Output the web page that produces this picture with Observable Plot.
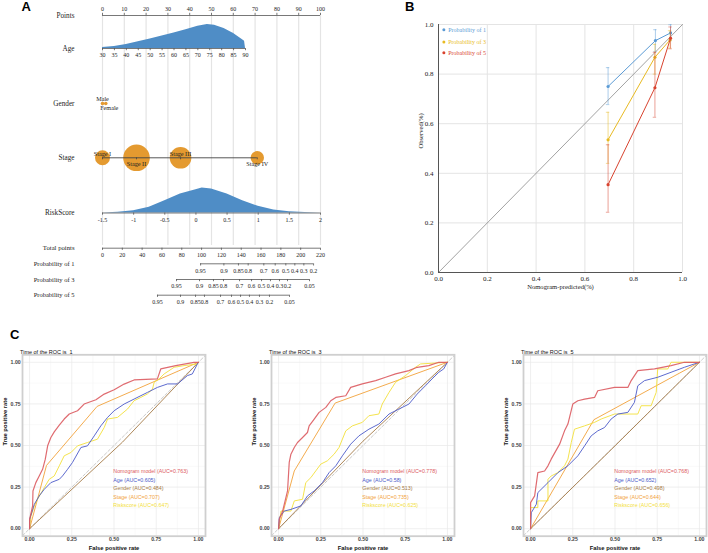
<!DOCTYPE html>
<html><head><meta charset="utf-8">
<script src="https://cdn.jsdelivr.net/npm/d3@7"></script>
<script src="https://cdn.jsdelivr.net/npm/@observablehq/plot@0.6"></script>
<style>
html,body{margin:0;padding:0;background:#fff}
#root{position:relative;width:708px;height:553px;overflow:hidden;background:#fff}
.plab{position:absolute;font-family:'Liberation Sans',Arial,sans-serif;font-weight:bold;font-size:13px;line-height:13px;color:#000}
</style></head><body><div id="root"></div>
<script>
// ================= DATA =================
// ---- Panel A: nomogram ----
const pointsTicks = [0,10,20,30,40,50,60,70,80,90,100];
const ageTicks = [30,35,40,45,50,55,60,65,70,75,80,85,90];
const ageAtMaxPoints = 65.6;             // points given to age 90
const ageDensAge = [30,35,40,45,50,55,60,65,70,74,77,81,85,88.6,89.6,90];
const ageDensVal = [0.04,0.08,0.17,0.28,0.40,0.52,0.65,0.78,0.93,1.0,0.97,0.83,0.63,0.38,0.30,0];
const genderLevels = ["Male","Female"];
const genderPoints = [0,1.5];
const stageLevels = ["Stage I","Stage II","Stage III","Stage IV"];
const stagePoints = [0,15.6,35.8,71];
const stageCount = [56,177,117,45];
const riskTicks = [-1.5,-1,-0.5,0,0.5,1,1.5,2];
const riskDensX = [-1.5,-1.25,-1,-0.75,-0.5,-0.25,0,0.1,0.25,0.5,0.75,1,1.25,1.5,1.75,2];
const riskDensVal = [0,0.03,0.09,0.23,0.49,0.76,0.93,1.0,0.96,0.76,0.49,0.27,0.12,0.05,0.02,0];
const totalTicks = [0,20,40,60,80,100,120,140,160,180,200,220];
const prob1Labels = ["0.95","0.9","0.85","0.8","0.7","0.6","0.5","0.4","0.3","0.2"];
const prob1Total = [99,122.5,137.2,147,162.8,174.3,185,194.1,203.2,213];
const prob3Labels = ["0.95","0.9","0.85","0.8","0.7","0.6","0.5","0.4","0.3","0.2","0.05"];
const prob3Total = [74.7,97.9,112,122.1,138.3,150.4,160.5,169.5,178.6,186.7,208.9];
const prob5Labels = ["0.95","0.9","0.85","0.8","0.7","0.6","0.5","0.4","0.3","0.2","0.05"];
const prob5Total = [55.5,78.7,93.9,102.9,119.1,130.2,139.3,148.3,158.4,168.5,188.7];

// ---- Panel B: calibration ----
const calSeries = ["Probability of 1","Probability of 3","Probability of 5"];
const calPred1 = [0.695,0.889,0.951], calObs1 = [0.750,0.935,0.966], calLo1 = [0.677,0.890,0.935], calHi1 = [0.826,0.979,0.999];
const calPred3 = [0.695,0.887,0.949], calObs3 = [0.535,0.868,0.938], calLo3 = [0.440,0.800,0.905], calHi3 = [0.646,0.920,0.975];
const calPred5 = [0.695,0.887,0.951], calObs5 = [0.354,0.745,0.945], calLo5 = [0.243,0.626,0.902], calHi5 = [0.515,0.888,0.990];
const calTicks = [0,0.2,0.4,0.6,0.8,1];

// ---- Panel C: ROC ----
const rocModels = ["Nomogram model","Age","Gender","Stage","Riskscore"];
const rocTimes = [1,3,5];
const auc1 = [0.763,0.605,0.484,0.707,0.647];
const auc3 = [0.778,0.58,0.513,0.735,0.625];
const auc5 = [0.768,0.652,0.498,0.644,0.656];
const rocTicks = [0,0.25,0.5,0.75,1];

const roc1Nomogram = [[0,0],[0,0.056],[0.018,0.137],[0.02,0.227],[0.037,0.277],[0.057,0.317],[0.077,0.357],[0.093,0.418],[0.107,0.498],[0.126,0.548],[0.146,0.582],[0.176,0.622],[0.205,0.659],[0.235,0.689],[0.284,0.709],[0.323,0.749],[0.393,0.775],[0.442,0.809],[0.501,0.835],[0.560,0.869],[0.619,0.894],[0.757,0.90],[0.777,0.96],[0.866,0.98],[0.974,1],[1,1]];
const roc1Age = [[0,0],[0,0.056],[0.028,0.147],[0.057,0.197],[0.087,0.237],[0.126,0.277],[0.176,0.297],[0.195,0.317],[0.225,0.357],[0.254,0.398],[0.304,0.488],[0.343,0.498],[0.383,0.558],[0.422,0.618],[0.462,0.669],[0.501,0.709],[0.560,0.749],[0.619,0.779],[0.698,0.819],[0.757,0.849],[0.817,0.87],[0.876,0.87],[0.935,0.92],[0.964,0.93],[0.994,0.99],[1,1]];
const roc1Gender = [[0,0],[0.55,0.52],[1,1]];
const roc1Stage = [[0,0],[0.1,0.38],[0.4,0.735],[1,1]];
const roc1Risk = [[0,0],[0.008,0.076],[0.028,0.137],[0.047,0.177],[0.087,0.247],[0.116,0.297],[0.146,0.317],[0.176,0.378],[0.205,0.438],[0.245,0.458],[0.284,0.498],[0.343,0.518],[0.402,0.538],[0.442,0.608],[0.462,0.659],[0.521,0.669],[0.580,0.719],[0.619,0.769],[0.659,0.789],[0.698,0.81],[0.728,0.839],[0.738,0.88],[0.767,0.90],[0.797,0.93],[0.856,0.97],[0.915,0.98],[0.994,0.99],[1,1]];

const roc3Nomogram = [[0,0],[0.004,0.056],[0.024,0.106],[0.053,0.227],[0.063,0.398],[0.073,0.448],[0.093,0.488],[0.112,0.518],[0.142,0.548],[0.171,0.578],[0.181,0.618],[0.211,0.659],[0.240,0.699],[0.280,0.729],[0.309,0.769],[0.339,0.789],[0.398,0.799],[0.427,0.849],[0.496,0.87],[0.575,0.89],[0.634,0.91],[0.693,0.93],[0.772,0.95],[0.821,0.97],[0.890,0.98],[0.949,1],[1,1]];
const roc3Age = [[0,0],[0.004,0.066],[0.033,0.106],[0.073,0.116],[0.132,0.137],[0.171,0.197],[0.211,0.227],[0.260,0.277],[0.299,0.337],[0.339,0.378],[0.378,0.438],[0.427,0.508],[0.476,0.558],[0.535,0.598],[0.594,0.629],[0.654,0.689],[0.713,0.719],[0.772,0.749],[0.821,0.809],[0.870,0.859],[0.909,0.90],[0.949,0.94],[0.978,0.96],[1,1]];
const roc3Gender = [[0,0],[0.5,0.526],[1,1]];
const roc3Stage = [[0,0],[0.093,0.347],[0.335,0.755],[1,1]];
const roc3Risk = [[0,0],[0.014,0.106],[0.073,0.106],[0.093,0.167],[0.142,0.177],[0.161,0.277],[0.191,0.307],[0.220,0.347],[0.250,0.388],[0.289,0.408],[0.329,0.448],[0.358,0.488],[0.398,0.588],[0.437,0.618],[0.496,0.639],[0.535,0.679],[0.594,0.689],[0.614,0.749],[0.654,0.819],[0.693,0.88],[0.752,0.92],[0.811,0.97],[0.841,0.99],[1,1]];

const roc5Nomogram = [[0,0],[0,0.157],[0.024,0.197],[0.043,0.337],[0.083,0.347],[0.103,0.378],[0.122,0.418],[0.172,0.508],[0.201,0.588],[0.221,0.629],[0.250,0.749],[0.280,0.769],[0.320,0.779],[0.379,0.789],[0.398,0.829],[0.497,0.849],[0.576,0.849],[0.596,0.89],[0.635,0.95],[0.734,0.96],[0.832,0.98],[0.911,1],[1,1]];
const roc5Age = [[0,0],[0.004,0.096],[0.034,0.147],[0.043,0.217],[0.103,0.277],[0.162,0.337],[0.221,0.378],[0.280,0.438],[0.320,0.498],[0.359,0.558],[0.398,0.588],[0.438,0.608],[0.477,0.659],[0.517,0.689],[0.576,0.699],[0.615,0.759],[0.635,0.859],[0.675,0.89],[0.753,0.91],[0.832,0.94],[0.911,0.97],[1,1]];
const roc5Gender = [[0,0],[0.5,0.498],[1,1]];
const roc5Stage = [[0,0],[0.375,0.655],[1,1]];
const roc5Risk = [[0,0],[0,0.127],[0.043,0.127],[0.043,0.167],[0.103,0.167],[0.103,0.297],[0.122,0.317],[0.162,0.337],[0.201,0.378],[0.221,0.418],[0.241,0.518],[0.260,0.598],[0.320,0.618],[0.379,0.639],[0.418,0.659],[0.497,0.689],[0.635,0.689],[0.655,0.739],[0.714,0.739],[0.744,0.819],[0.753,0.96],[0.813,0.96],[0.832,1],[1,1]];

// ================= DRAWING =================
const serif = "'Liberation Serif','Times New Roman',serif";
const sans = "'Liberation Sans',Arial,sans-serif";
const root = document.getElementById("root");
function place(el, left, top) {
  el.style.position = "absolute"; el.style.left = left + "px"; el.style.top = top + "px";
  root.appendChild(el);
}
function panelLabel(t, left, top) {
  const d = document.createElement("div"); d.className = "plab"; d.textContent = t;
  d.style.left = left + "px"; d.style.top = top + "px"; root.appendChild(d);
}

// ---------- Panel A ----------
(function () {
  const axisCol = "#555";
  const R = {points: 15, age: 48, gender: 103, stage: 157.3, risk: 212.5, total: 247.7, p1: 263.3, p3: 279, p5: 294.7};
  const agePts = a => (a - 30) / 60 * ageAtMaxPoints;
  const riskPts = r => (r + 1.5) / 3.5 * 100;
  const totPts = t => t / 220 * 100;
  function scaleAxis(values, labels, toX, y, dir, fs) {
    const rows = values.map((v, i) => ({x: toX(v), label: labels[i]}));
    return [
      Plot.ruleY([y], {x1: d3.min(rows, d => d.x), x2: d3.max(rows, d => d.x), stroke: axisCol, strokeWidth: 0.8}),
      Plot.ruleX(rows, {x: "x", y1: y, y2: y + dir * 2.2, stroke: axisCol, strokeWidth: 0.8}),
      Plot.text(rows, {x: "x", y: y + dir * 6.8, text: "label", fontSize: fs, fill: "#222"})
    ];
  }
  const ageArea = ageDensAge.map((a, i) => ({x: agePts(a), h: ageDensVal[i]}));
  const riskArea = riskDensX.map((r, i) => ({x: riskPts(r), h: riskDensVal[i]}));
  const stageRows = stageLevels.map((s, i) => ({x: stagePoints[i], n: stageCount[i], s, above: i % 2 === 0}));
  const genderRows = genderLevels.map((g, i) => ({x: genderPoints[i], g, above: i === 0}));
  const rowLabels = [
    {t: "Points", y: R.points, fs: 7.2}, {t: "Age", y: R.age, fs: 7.2}, {t: "Gender", y: R.gender, fs: 7.2},
    {t: "Stage", y: R.stage, fs: 7.2}, {t: "RiskScore", y: R.risk, fs: 7.2},
    {t: "Total points", y: R.total, fs: 6.7}, {t: "Probability of 1", y: R.p1, fs: 6.5},
    {t: "Probability of 3", y: R.p3, fs: 6.5}, {t: "Probability of 5", y: R.p5, fs: 6.5}
  ];
  const blue = "#4F8DC6", orange = "#E49A30";
  const p = Plot.plot({
    width: 340, height: 310, margin: 0,
    x: {domain: [0, 100], range: [102, 320], axis: null},
    y: {domain: [0, 310], range: [0, 310], axis: null},
    r: {type: "identity"},
    style: {fontFamily: serif, background: "transparent", overflow: "visible"},
    marks: [
      Plot.ruleX(pointsTicks, {x: d => d, y1: R.points, y2: 245, stroke: "#e4e4e4", strokeWidth: 1.2}),
      Plot.text(rowLabels, {frameAnchor: "left", dx: 74, y: "y", text: "t", fontSize: "fs", textAnchor: "end", fill: "#222"}),
      ...scaleAxis(pointsTicks, pointsTicks.map(String), d => d, R.points, -1, 6),
      Plot.areaY(ageArea, {x: "x", y1: R.age, y2: d => R.age - d.h * 24, fill: blue}),
      ...scaleAxis(ageTicks, ageTicks.map(String), agePts, R.age, 1, 6),
      Plot.ruleY([R.gender], {x1: d3.min(genderPoints), x2: d3.max(genderPoints), stroke: axisCol, strokeWidth: 0.8}),
      Plot.dot(genderRows, {x: "x", y: R.gender, r: 1.8, fill: orange}),
      Plot.text(genderRows, {x: d => d.x + (d.above ? 0 : 1.6), y: d => R.gender + (d.above ? -4 : 5), text: "g", fontSize: 6.2, fill: "#222"}),
      Plot.dot(stageRows, {x: "x", y: R.stage, r: d => Math.sqrt(d.n), fill: orange, stroke: "none"}),
      Plot.ruleY([R.stage], {x1: d3.min(stagePoints), x2: d3.max(stagePoints), stroke: "#444", strokeWidth: 0.9}),
      Plot.ruleX(stageRows, {x: "x", y1: R.stage, y2: R.stage + 2, stroke: "#444", strokeWidth: 0.8}),
      Plot.text(stageRows, {x: "x", y: d => R.stage + (d.above ? -4.2 : 5.8), text: "s", fontSize: 6.2, fill: "#222"}),
      Plot.areaY(riskArea, {x: "x", y1: R.risk, y2: d => R.risk - d.h * 25, fill: blue}),
      ...scaleAxis(riskTicks, riskTicks.map(String), riskPts, R.risk, 1, 6),
      ...scaleAxis(totalTicks, totalTicks.map(String), totPts, R.total, 1, 6),
      ...scaleAxis(prob1Total, prob1Labels, totPts, R.p1, 1, 6),
      ...scaleAxis(prob3Total, prob3Labels, totPts, R.p3, 1, 6),
      ...scaleAxis(prob5Total, prob5Labels, totPts, R.p5, 1, 6)
    ]
  });
  place(p, 0, 0);
})();

// ---------- Panel B ----------
(function () {
  const cols = ["#5B9BD5", "#E8BA22", "#D8432F"];
  const preds = [calPred1, calPred3, calPred5], obs = [calObs1, calObs3, calObs5];
  const los = [calLo1, calLo3, calLo5], his = [calHi1, calHi3, calHi5];
  const fmt = d3.format(".1f");
  const marks = [
    Plot.ruleX(calTicks.slice(1), {x: d => d, stroke: "#e4e4e4", strokeWidth: 1}),
    Plot.ruleY(calTicks.slice(1), {y: d => d, stroke: "#e4e4e4", strokeWidth: 1}),
    Plot.line([{x: 0, y: 0}, {x: 1, y: 1}], {x: "x", y: "y", stroke: "#8a8a8a", strokeWidth: 0.8})
  ];
  const legY = [0.979, 0.929, 0.886];
  calSeries.forEach((s, k) => {
    const rows = preds[k].map((x, i) => ({x, y: obs[k][i], lo: los[k][i], hi: his[k][i]}));
    const c = cols[k];
    marks.push(
      Plot.ruleX(rows, {x: "x", y1: "lo", y2: "hi", stroke: c, strokeOpacity: 0.5, strokeWidth: 1}),
      Plot.ruleY(rows, {y: "lo", x1: d => d.x - 0.007, x2: d => d.x + 0.007, stroke: c, strokeOpacity: 0.6, strokeWidth: 0.8}),
      Plot.ruleY(rows, {y: "hi", x1: d => d.x - 0.007, x2: d => d.x + 0.007, stroke: c, strokeOpacity: 0.6, strokeWidth: 0.8}),
      Plot.line(rows, {x: "x", y: "y", stroke: c, strokeWidth: 1}),
      Plot.dot(rows, {x: "x", y: "y", r: 1.6, fill: c}),
      Plot.dot([s], {x: 0.022, y: legY[k], r: 1.5, fill: c}),
      Plot.text([s], {x: 0.04, y: legY[k], text: d => d, fill: c, textAnchor: "start", fontSize: 6})
    );
  });
  marks.push(
    Plot.ruleX([0], {stroke: "#555", strokeWidth: 1}),
    Plot.ruleY([0], {stroke: "#555", strokeWidth: 1}),
    Plot.text(calTicks, {x: d => d, frameAnchor: "bottom", dy: 8, text: fmt, fontSize: 7, fill: "#222"}),
    Plot.text(calTicks, {y: d => d, frameAnchor: "left", dx: -5, text: fmt, textAnchor: "end", fontSize: 7, fill: "#222"}),
    Plot.text(["Nomogram-predicted(%)"], {frameAnchor: "bottom", dy: 16, fontSize: 6.6, fill: "#222"}),
    Plot.text(["Observed(%)"], {frameAnchor: "left", dx: -18, rotate: -90, fontSize: 6.6, fill: "#222"})
  );
  const p = Plot.plot({
    width: 338, height: 300, marginLeft: 68, marginRight: 26, marginTop: 24, marginBottom: 28,
    x: {domain: [0, 1], axis: null}, y: {domain: [0, 1], axis: null},
    style: {fontFamily: serif, background: "transparent", overflow: "visible"},
    marks
  });
  place(p, 370, 0);
})();

// ---------- Panel C ----------
(function () {
  const colors = ["#DC5B61", "#4B59C8", "#A57B47", "#F2A23A", "#F3E03A"];
  const sets = [
    [roc1Nomogram, roc1Age, roc1Gender, roc1Stage, roc1Risk],
    [roc3Nomogram, roc3Age, roc3Gender, roc3Stage, roc3Risk],
    [roc5Nomogram, roc5Age, roc5Gender, roc5Stage, roc5Risk]
  ];
  const aucs = [auc1, auc3, auc5];
  const lefts = [21.5, 271, 522.7];
  const xd = [-0.042, 1.042], yd = [-0.045, 1.045];
  const minor = [0.125, 0.375, 0.625, 0.875];
  const fmt = d3.format(".2f");
  const legY = [0.344, 0.292, 0.240, 0.189, 0.138];
  rocTimes.forEach((t, k) => {
    const marks = [
      Plot.frame({fill: "#fff"}),
      Plot.ruleX(minor, {x: d => d, stroke: "#f3f3f3", strokeWidth: 0.5}),
      Plot.ruleY(minor, {y: d => d, stroke: "#f3f3f3", strokeWidth: 0.5}),
      Plot.ruleX(rocTicks, {x: d => d, stroke: "#e8e8e8", strokeWidth: 0.7}),
      Plot.ruleY(rocTicks, {y: d => d, stroke: "#e8e8e8", strokeWidth: 0.7}),
      Plot.line([[xd[0], xd[0]], [xd[1], xd[1]]], {stroke: "#bdbdbd", strokeWidth: 0.8, strokeDasharray: "3,2"})
    ];
    [2, 3, 4, 1, 0].forEach(m => {
      marks.push(Plot.line(sets[k][m], {stroke: colors[m], strokeWidth: m === 0 ? 1.2 : 0.9, strokeOpacity: m === 0 ? 0.9 : 1}));
    });
    rocModels.forEach((name, m) => {
      marks.push(Plot.text([`${name} (AUC=${aucs[k][m]})`], {x: 0.496, y: legY[m], text: d => d, fill: colors[m], textAnchor: "start", fontSize: 5.3}));
    });
    marks.push(
      Plot.frame({stroke: "#cfcfcf", strokeWidth: 1.8}),
      Plot.text(rocTicks, {x: d => d, frameAnchor: "bottom", dy: 5, text: fmt, fontSize: 5.2, fontWeight: "bold", fill: "#444"}),
      Plot.text(rocTicks, {y: d => d, frameAnchor: "left", dx: -1.8, text: fmt, textAnchor: "end", fontSize: 5.2, fontWeight: "bold", fill: "#444"}),
      Plot.text([`Time of the ROC is  ${t}`], {frameAnchor: "top-left", dx: -2.5, dy: -5, textAnchor: "start", fontSize: 5.5, fill: "#111"}),
      Plot.text(["False positive rate"], {frameAnchor: "bottom", dy: 13.6, fontSize: 5.8, fontWeight: "bold", fill: "#111"}),
      Plot.text(["True positive rate"], {frameAnchor: "left", dx: -17.5, rotate: -90, fontSize: 5.8, fontWeight: "bold", fill: "#111"})
    );
    const p = Plot.plot({
      width: 207, height: 213, marginLeft: 22, marginRight: 2, marginTop: 14.3, marginBottom: 17.3,
      x: {domain: xd, axis: null}, y: {domain: yd, axis: null},
      style: {fontFamily: sans, background: "transparent", overflow: "visible"},
      marks
    });
    place(p, lefts[k] - 22, 340);
  });
})();

panelLabel("A", 21.5, 0);
panelLabel("B", 405, 0);
panelLabel("C", 10, 328);
</script></body></html>
